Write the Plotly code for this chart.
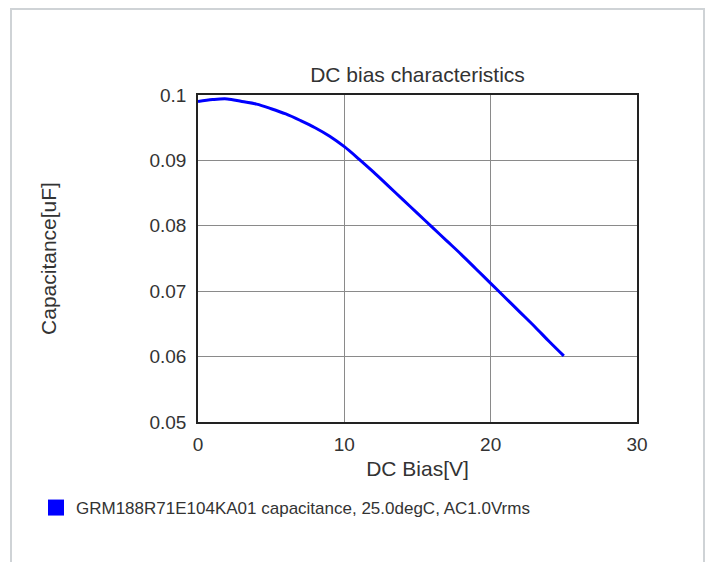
import plotly.graph_objects as go

# Data
dc_bias_v = [0, 1, 2, 3, 4, 5, 6, 7, 8, 9, 10, 11, 12, 13, 14, 15, 16, 17, 18, 19, 20, 21, 22, 23, 24, 25]
capacitance_uf = [0.0990, 0.0993, 0.0994, 0.0990, 0.0986, 0.0979, 0.0971, 0.0961, 0.0950, 0.0937,
                  0.0921, 0.0902, 0.0882, 0.0861, 0.0840, 0.0819, 0.0798, 0.0777, 0.0756, 0.0734,
                  0.0712, 0.0690, 0.0668, 0.0646, 0.0623, 0.0601]
series_name = "GRM188R71E104KA01 capacitance, 25.0degC, AC1.0Vrms"
x_ticks = [0, 10, 20, 30]
y_ticks = [0.05, 0.06, 0.07, 0.08, 0.09, 0.1]
y_tick_labels = ["0.05", "0.06", "0.07", "0.08", "0.09", "0.1"]

FONT = "Liberation Sans, Arial, sans-serif"
TXT = "#333333"
BLUE = "#0000ff"

fig = go.Figure()
fig.add_trace(go.Scatter(x=dc_bias_v, y=capacitance_uf, mode="lines",
                         line=dict(color=BLUE, width=3, shape="spline", smoothing=1.0),
                         showlegend=False, hoverinfo="x+y"))
fig.add_trace(go.Scatter(x=[None], y=[None], mode="markers", name=series_name,
                         marker=dict(symbol="square", size=16, color=BLUE),
                         showlegend=True))

# page body has an 8px margin, so work in page coordinates minus 8
OFF = 8
W, H = 715 - OFF, 562 - OFF
L, T = 198 - OFF, 95 - OFF
pw, ph = 439, 327
R, B = W - L - pw, H - T - ph

def px_x(p):
    return (p - OFF - L) / pw

def px_y(p):
    return (H - B - (p - OFF)) / ph

fig.update_layout(
    width=W, height=H,
    margin=dict(l=L, r=R, t=T, b=B, autoexpand=False),
    paper_bgcolor="white", plot_bgcolor="white",
    font=dict(family=FONT, color=TXT, size=18),
    title=dict(text="DC bias characteristics", x=0.5, xref="paper",
               y=1 - (75 - OFF) / H, yref="container", yanchor="middle", xanchor="center",
               font=dict(size=21, color=TXT, family=FONT)),
    xaxis=dict(range=[0, 30], tickvals=x_ticks, showgrid=True, gridcolor="#8a8a8a", gridwidth=1,
               showline=True, linecolor="#222222", linewidth=1.5, mirror=True,
               zeroline=False, ticks="", ticklabelstandoff=4,
               tickfont=dict(size=19, color=TXT, family=FONT),
               title=dict(text="DC Bias[V]", standoff=8, font=dict(size=21, color=TXT, family=FONT))),
    yaxis=dict(range=[0.05, 0.1], tickvals=y_ticks, ticktext=y_tick_labels, showgrid=True,
               gridcolor="#8a8a8a", gridwidth=1,
               showline=True, linecolor="#222222", linewidth=1.5, mirror=True,
               zeroline=False, ticks="", ticklabelstandoff=6,
               tickfont=dict(size=19, color=TXT, family=FONT),
               title=dict(text="Capacitance[uF]", standoff=87, font=dict(size=21, color=TXT, family=FONT))),
    legend=dict(orientation="h", x=px_x(36), xanchor="left", y=px_y(508), yanchor="middle",
                font=dict(size=17, color=TXT, family=FONT), bgcolor="rgba(0,0,0,0)",
                itemwidth=30),
    shapes=[dict(type="path", xref="paper", yref="paper",
                 path=f"M {px_x(11)} {px_y(620)} L {px_x(11)} {px_y(9)} L {px_x(704)} {px_y(9)} L {px_x(704)} {px_y(620)}",
                 line=dict(color="#cfd3d6", width=2), layer="below")],
)

fig.write_html("out.html")
